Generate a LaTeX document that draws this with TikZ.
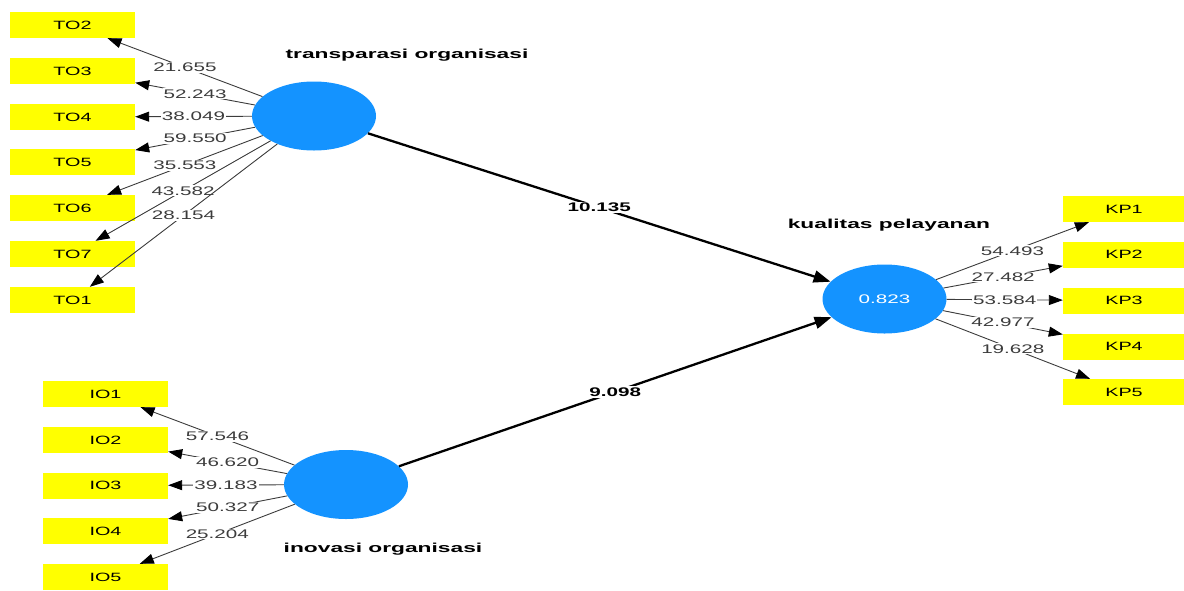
\documentclass[tikz,border=0pt]{standalone}
\usepackage{fontspec}
\setmainfont{Liberation Sans}
\usetikzlibrary{arrows.meta,shapes.geometric}
\definecolor{lvblue}{RGB}{20,147,255}
\definecolor{indyellow}{RGB}{255,255,0}
\definecolor{numgray}{RGB}{60,60,60}
\newcommand{\hstr}[1]{\scalebox{1.65}[1]{#1}}
\newcommand{\hbold}[1]{\scalebox{1.75}[1]{\bfseries #1}}

\tikzset{
    latent/.style={ellipse, fill=lvblue, minimum width=124pt, minimum height=69pt, inner sep=0pt,
        text=white, font=\fontsize{12.5}{14}\selectfont},
    indicator/.style={rectangle, fill=indyellow, minimum width=125pt, minimum height=26pt, inner sep=0pt,
        font=\fontsize{12}{14}\selectfont},
    lvname/.style={font=\fontsize{13}{15}\selectfont},
    loading/.style={-{Triangle[length=14pt,width=10pt,color=black]}, draw=numgray, line width=0.9pt},
    weight/.style={midway, fill=white, inner sep=1pt, text=numgray, font=\fontsize{12.5}{14}\selectfont},
    coef/.style={-{Triangle[length=17pt,width=12pt]}, draw=black, line width=2.3pt},
    coefval/.style={midway, fill=white, inner sep=1.5pt, font=\fontsize{12.5}{14}\bfseries\selectfont}
}

\begin{document}
\begin{tikzpicture}[x=1pt, y=-1pt]
        \useasboundingbox (0,0) rectangle (1184,590);

        % latent variables
        \node[latent] (to) at (314, 116)   {};
        \node[latent] (io) at (346, 484.5) {};
        \node[latent] (kp) at (884.5, 299) {\hstr{0.823}};

        \node[lvname] (toname) at (407, 55)   {\hbold{transparasi organisasi}};
        \node[lvname] (ioname) at (383, 549)  {\hbold{inovasi organisasi}};
        \node[lvname] (kpname) at (889, 225)  {\hbold{kualitas pelayanan}};

        % indicators of transparasi organisasi
        \node[indicator] (to2) at (72.5, 25)  {\hstr{TO2}};
        \node[indicator] (to3) at (72.5, 71)  {\hstr{TO3}};
        \node[indicator] (to4) at (72.5, 117) {\hstr{TO4}};
        \node[indicator] (to5) at (72.5, 162) {\hstr{TO5}};
        \node[indicator] (to6) at (72.5, 208) {\hstr{TO6}};
        \node[indicator] (to7) at (72.5, 254) {\hstr{TO7}};
        \node[indicator] (to1) at (72.5, 300) {\hstr{TO1}};

        % indicators of inovasi organisasi
        \node[indicator] (io1) at (105.5, 394)   {\hstr{IO1}};
        \node[indicator] (io2) at (105.5, 440)   {\hstr{IO2}};
        \node[indicator] (io3) at (105.5, 485.5) {\hstr{IO3}};
        \node[indicator] (io4) at (105.5, 531)   {\hstr{IO4}};
        \node[indicator] (io5) at (105.5, 577)   {\hstr{IO5}};

        % indicators of kualitas pelayanan
        \node[indicator, minimum width=122pt] (kp1) at (1124, 209)   {\hstr{KP1}};
        \node[indicator, minimum width=122pt] (kp2) at (1124, 254.5) {\hstr{KP2}};
        \node[indicator, minimum width=122pt] (kp3) at (1124, 300.5) {\hstr{KP3}};
        \node[indicator, minimum width=122pt] (kp4) at (1124, 346.5) {\hstr{KP4}};
        \node[indicator, minimum width=122pt] (kp5) at (1124, 392)   {\hstr{KP5}};

        %outer loadings
        \path[loading] (to) edge node[weight] {\hstr{21.655}} (to2);
        \path[loading] (to) edge node[weight] {\hstr{52.243}} (to3);
        \path[loading] (to) edge node[weight] {\hstr{38.049}} (to4);
        \path[loading] (to) edge node[weight] {\hstr{59.550}} (to5);
        \path[loading] (to) edge node[weight] {\hstr{35.553}} (to6);
        \path[loading] (to) edge node[weight] {\hstr{43.582}} (to7);
        \path[loading] (to) edge node[weight] {\hstr{28.154}} (to1);

        \path[loading] (io) edge node[weight] {\hstr{57.546}} (io1);
        \path[loading] (io) edge node[weight] {\hstr{46.620}} (io2);
        \path[loading] (io) edge node[weight] {\hstr{39.183}} (io3);
        \path[loading] (io) edge node[weight] {\hstr{50.327}} (io4);
        \path[loading] (io) edge node[weight] {\hstr{25.204}} (io5);

        \path[loading] (kp) edge node[weight] {\hstr{54.493}} (kp1);
        \path[loading] (kp) edge node[weight] {\hstr{27.482}} (kp2);
        \path[loading] (kp) edge node[weight] {\hstr{53.584}} (kp3);
        \path[loading] (kp) edge node[weight] {\hstr{42.977}} (kp4);
        \path[loading] (kp) edge node[weight] {\hstr{19.628}} (kp5);

        %path coefficients
        \path[coef] (to) edge node[coefval] {\hstr{10.135}} (kp);
        \path[coef] (io) edge node[coefval] {\hstr{9.098}} (kp);
\end{tikzpicture}
\end{document}
